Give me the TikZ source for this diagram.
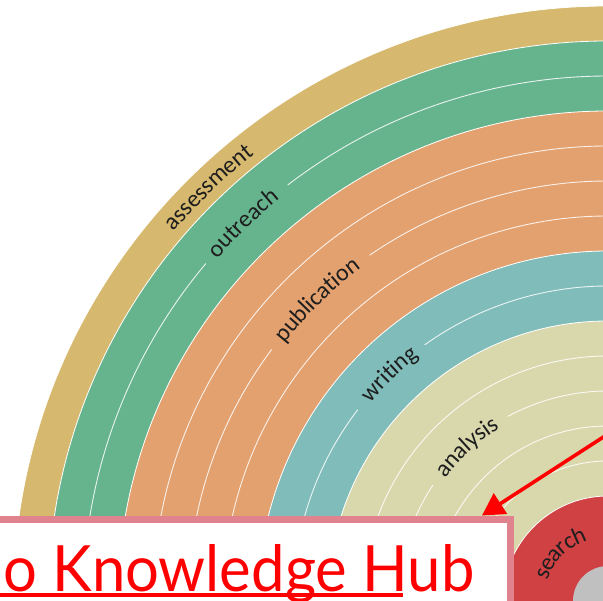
\documentclass[tikz,border=0pt]{standalone}
\usepackage{fontspec}
\usepackage{graphicx}
\setmainfont{Carlito}
\newfontfamily\titlefont{Lato}
\usetikzlibrary{decorations.text,arrows.meta}

\definecolor{cAssess}{HTML}{D6B96E}
\definecolor{cOutreach}{HTML}{66B48D}
\definecolor{cPub}{HTML}{E3A16F}
\definecolor{cWrite}{HTML}{7FBCBA}
\definecolor{cAnalysis}{HTML}{D9D8AD}
\definecolor{cSearch}{HTML}{CF4143}
\definecolor{cCore}{HTML}{C0C0C0}
\definecolor{cFrame}{HTML}{E0838F}
\definecolor{labelink}{HTML}{1E1E1E}

% ring unit (one band step) in pt
\newcommand\ringu{35}
% a white seam with a gap where a label sits: radius step, gap start, gap end
\newcommand\seamgap[3]{%
  \draw[seam] (c) ++(180:#1*\ringu) arc[start angle=180, end angle=#2, radius=#1*\ringu];
  \draw[seam] (c) ++(#3:#1*\ringu) arc[start angle=#3, end angle=85, radius=#1*\ringu];}
% a curved label centred at a given angle on a given radius step
\newcommand\ringtext[3]{%
  \path[decorate, decoration={text along path, text align=center, raise=-6pt,
    text={|\fontsize{24}{28}\selectfont\color{labelink}|#3}}]
    (c) ++(#2+40:#1*\ringu) arc[start angle=#2+40, end angle=#2-40, radius=#1*\ringu];}

\begin{document}
\begin{tikzpicture}[x=1pt,y=1pt,
  band/.style={fill=#1, draw=white, line width=0.8pt},
  seam/.style={draw=white, line width=0.9pt, opacity=0.85},
  hubframe/.style={draw=cFrame, fill=white, line width=7pt, outer sep=0pt, inner sep=0pt},
  pointer/.style={draw=red, line width=3.6pt, -{Triangle[length=22pt, width=24pt]}},
  uline/.style={draw=red, line width=4pt},
]
\useasboundingbox (0,0) rectangle (603,601);
\begin{scope}
  \clip (0,0) rectangle (603,601);
  \coordinate (c) at (608,0);

  % concentric bands, outermost first
  \path[band=cAssess]   (c) circle[radius=17*\ringu];
  \path[band=cOutreach] (c) circle[radius=16*\ringu];
  \path[band=cPub]      (c) circle[radius=14*\ringu];
  \path[band=cWrite]    (c) circle[radius=10*\ringu];
  \path[band=cAnalysis] (c) circle[radius=8*\ringu];
  \path[band=cSearch]   (c) circle[radius=3*\ringu];
  \path[fill=cCore]     (c) circle[radius=1*\ringu];

  % inner seams
  \seamgap{15}{140}{127.6}
  \draw[seam] (c) circle[radius=13*\ringu];
  \seamgap{12}{143.2}{124.6}
  \draw[seam] (c) circle[radius=11*\ringu];
  \seamgap{9}{142.6}{125.6}
  \draw[seam] (c) circle[radius=7*\ringu];
  \seamgap{6}{146.5}{118.5}
  \draw[seam] (c) circle[radius=5*\ringu];
  \draw[seam] (c) circle[radius=4*\ringu];

  % band labels
  \ringtext{16.45}{134}{assessment}
  \ringtext{15}{134}{outreach}
  \ringtext{12}{134}{publication}
  \ringtext{9}{134}{writing}
  \ringtext{6}{132.5}{analysis}
  \ringtext{2}{135}{search}

  % title box and pointer
  \node[hubframe, anchor=north east, minimum width=560pt, minimum height=120pt] (hub) at (510.5,81.5) {};
  \node[anchor=base west, inner sep=0pt, text=red] (title) at (3,9)
    {\resizebox{471pt}{47pt}{\titlefont o Knowledge Hub}};
  \draw[uline] (-5,6.3) -- (403,6.3);

  \coordinate (src) at (622,176);
  \coordinate (tip) at (482,85.5);
  \draw[pointer] (src) -- (tip);
\end{scope}
\end{tikzpicture}
\end{document}
